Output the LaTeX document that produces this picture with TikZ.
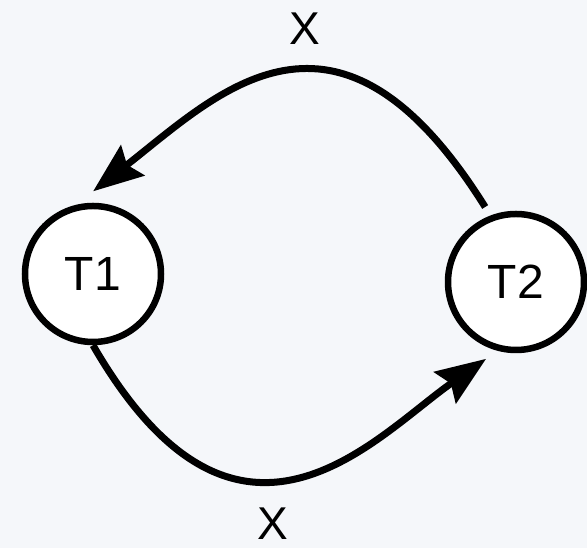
\documentclass[tikz,border=0pt]{standalone}
\usepackage{fontspec}
\setmainfont{Liberation Sans}
\usepackage{tikz}
\usetikzlibrary{arrows.meta, positioning, calc}
\definecolor{bgcol}{RGB}{245,247,250}

\begin{document}
\begin{tikzpicture}[x=1pt,y=1pt,>={Stealth[length=50pt,width=38pt,inset=7pt]},
            state/.style={circle,draw=black,fill=white,line width=6.5pt,
            minimum size=136pt,inner sep=0pt,font=\fontsize{48pt}{52pt}\selectfont},
            lbl/.style={inner sep=0pt,font=\fontsize{46pt}{50pt}\selectfont},
            trans/.style={line width=7pt}]
            \useasboundingbox[fill=bgcol] (0,0) rectangle (587,548);
            \node[state] (T1) at (93,274) {T1};
            \node[state] (T2) at (516,266) {T2};
            \node[lbl] (xtop) at (305,519.5) {X};
            \node[lbl] (xbot) at (273,24.5) {X};
            \draw[trans,->,shorten <=10pt,shorten >=22pt] (T2.111)
            .. controls +(122:290) and +(38:180) .. (T1.104);
            \draw[trans,->,shorten >=14pt] (T1.270)
            .. controls +(300:290) and +(215:150) .. (T2.255);
        \end{tikzpicture}
\end{document}
